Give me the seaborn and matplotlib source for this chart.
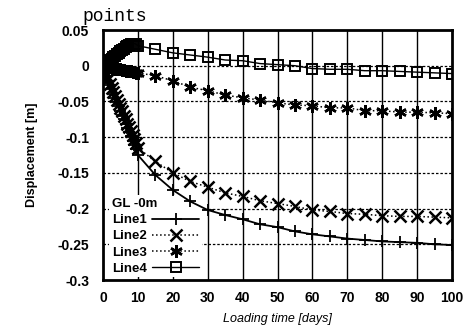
import numpy as np
import pandas as pd
import matplotlib
matplotlib.use("Agg")
import matplotlib.pyplot as plt
import seaborn as sns

days = [0, 0.5, 1, 1.5, 2, 2.5, 3, 3.5, 4, 4.5, 5, 5.5, 6, 6.5, 7, 7.5, 8, 8.5, 9, 9.5, 10,
        15, 20, 25, 30, 35, 40, 45, 50, 55, 60, 65, 70, 75, 80, 85, 90, 95, 100]

line1 = [0.0, -0.008, -0.015, -0.021, -0.027, -0.033, -0.039, -0.045, -0.051, -0.057, -0.063,
         -0.069, -0.075, -0.081, -0.087, -0.093, -0.099, -0.105, -0.111, -0.117, -0.125,
         -0.153, -0.174, -0.190, -0.202, -0.209, -0.215, -0.222, -0.226, -0.232, -0.236,
         -0.239, -0.242, -0.244, -0.246, -0.247, -0.248, -0.250, -0.251]
line2 = [0.0, -0.007, -0.013, -0.019, -0.025, -0.031, -0.037, -0.042, -0.048, -0.053, -0.059,
         -0.064, -0.070, -0.075, -0.081, -0.086, -0.092, -0.097, -0.103, -0.108, -0.115,
         -0.134, -0.150, -0.162, -0.170, -0.178, -0.183, -0.189, -0.193, -0.197, -0.202,
         -0.204, -0.207, -0.208, -0.210, -0.211, -0.211, -0.212, -0.213]
line3 = [0.0, -0.001, -0.001, -0.002, -0.002, -0.003, -0.003, -0.004, -0.004, -0.005, -0.005,
         -0.006, -0.006, -0.007, -0.007, -0.008, -0.008, -0.009, -0.009, -0.010, -0.010,
         -0.014, -0.021, -0.030, -0.035, -0.041, -0.045, -0.048, -0.052, -0.055, -0.056,
         -0.059, -0.059, -0.063, -0.063, -0.065, -0.065, -0.066, -0.067]
line4 = [0.0, 0.002, 0.004, 0.006, 0.008, 0.010, 0.012, 0.014, 0.016, 0.018, 0.020,
         0.022, 0.024, 0.026, 0.027, 0.029, 0.030, 0.031, 0.031, 0.030, 0.028,
         0.023, 0.018, 0.015, 0.012, 0.008, 0.007, 0.003, 0.0015, 0.0, -0.004,
         -0.005, -0.005, -0.007, -0.007, -0.008, -0.009, -0.010, -0.011]

x_ticks = [0, 10, 20, 30, 40, 50, 60, 70, 80, 90, 100]
y_ticks = [0.05, 0, -0.05, -0.1, -0.15, -0.2, -0.25, -0.3]
y_tick_labels = ["0.05", "0", "-0.05", "-0.1", "-0.15", "-0.2", "-0.25", "-0.3"]

df = pd.DataFrame({"days": days, "Line1": line1, "Line2": line2,
                   "Line3": line3, "Line4": line4})

sns.set_style("white")
plt.rcParams['font.family'] = ['Liberation Sans', 'DejaVu Sans']
plt.rcParams['text.color'] = 'black'
plt.rcParams['axes.labelcolor'] = 'black'
plt.rcParams['xtick.color'] = 'black'
plt.rcParams['ytick.color'] = 'black'

fig = plt.figure(figsize=(4.74, 3.25), dpi=100)
ax = fig.add_axes([103 / 474, 1 - 280 / 325, (452 - 103) / 474, (280 - 30) / 325])

asterisk = (6, 2, 0)
styles = {
    "Line1": dict(marker="+", linestyle="-", markersize=9, markeredgewidth=1.3, linewidth=1.3),
    "Line2": dict(marker="x", linestyle=":", markersize=8, markeredgewidth=1.8, linewidth=1.1),
    "Line3": dict(marker=asterisk, linestyle=":", markersize=9, markeredgewidth=1.8, linewidth=1.1),
    "Line4": dict(marker="s", linestyle="-", markersize=7, markeredgewidth=1.4, linewidth=1.0,
                  markerfacecolor="none"),
}
for name in ["Line1", "Line2", "Line3", "Line4"]:
    sns.lineplot(data=df, x="days", y=name, ax=ax, color="black", label=name,
                 markeredgecolor="black", zorder=3, **styles[name])

ax.set_xlim(0, 100)
ax.set_ylim(-0.3, 0.05)
ax.set_xticks(x_ticks)
ax.set_xticklabels([str(t) for t in x_ticks], fontsize=10, fontweight="bold")
ax.set_yticks(y_ticks)
ax.set_yticklabels(y_tick_labels, fontsize=10, fontweight="bold")
ax.tick_params(direction="in", length=3, color="black")
ax.tick_params(axis="y", pad=10)
ax.tick_params(axis="x", pad=8)

for t in x_ticks[1:-1]:
    ax.axvline(t, color="black", linewidth=1.0, zorder=0)
for t in y_ticks[1:-1]:
    ax.axhline(t, color="black", linewidth=0.9, linestyle=(0, (2, 1.5)), zorder=0)

for s in ax.spines.values():
    s.set_color("black")
    s.set_linewidth(2.0)

ax.set_xlabel("Loading time [days]", fontsize=9, fontstyle="italic", labelpad=6)
ax.set_ylabel("Displacement [m]", fontsize=9, fontweight="bold", labelpad=14)

leg = ax.legend(title="GL -0m", loc="lower left", bbox_to_anchor=(0.01, 0.0),
                frameon=True, facecolor="white", edgecolor="none", framealpha=1.0,
                fancybox=False, markerfirst=False, handlelength=3.6,
                labelspacing=0.3, borderaxespad=0.2, handletextpad=0.4, borderpad=0.2,
                prop={"weight": "bold", "size": 9.5},
                title_fontproperties={"weight": "bold", "size": 9.5})
leg._legend_box.align = "left"
leg.set_zorder(1)
for txt in leg.get_texts():
    txt.set_color("black")
leg.get_title().set_color("black")

fig.text(82 / 474, 1 - 21 / 325, "points", fontsize=13, family="Liberation Mono",
         ha="left", va="baseline")

fig.savefig("out.png", dpi=100, facecolor="white")
